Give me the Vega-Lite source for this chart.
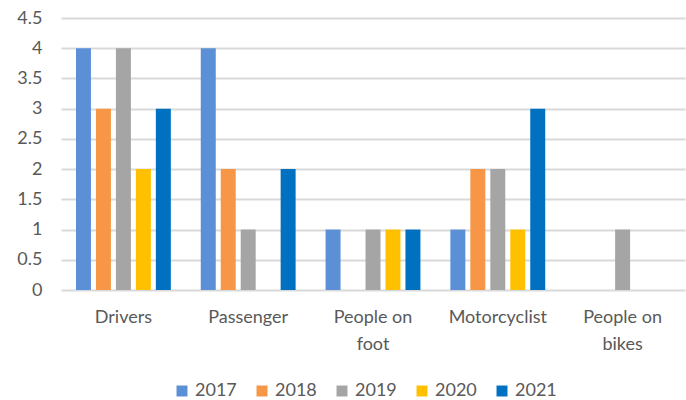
{
  "$schema": "https://vega.github.io/schema/vega-lite/v6.json",
  "width": 624,
  "height": 272,
  "autosize": {"type": "none"},
  "padding": {"left": 61, "top": 18, "right": 1, "bottom": 110},
  "background": "white",
  "config": {
    "font": "Lato",
    "view": {"stroke": null},
    "axis": {"labelFont": "Lato", "labelColor": "#595959", "labelFontSize": 18}
  },
  "data": {
    "values": [
      {"cat": "Drivers", "year": "2017", "v": 4},
      {"cat": "Drivers", "year": "2018", "v": 3},
      {"cat": "Drivers", "year": "2019", "v": 4},
      {"cat": "Drivers", "year": "2020", "v": 2},
      {"cat": "Drivers", "year": "2021", "v": 3},
      {"cat": "Passenger", "year": "2017", "v": 4},
      {"cat": "Passenger", "year": "2018", "v": 2},
      {"cat": "Passenger", "year": "2019", "v": 1},
      {"cat": "Passenger", "year": "2020", "v": 0},
      {"cat": "Passenger", "year": "2021", "v": 2},
      {"cat": "People on foot", "year": "2017", "v": 1},
      {"cat": "People on foot", "year": "2018", "v": 0},
      {"cat": "People on foot", "year": "2019", "v": 1},
      {"cat": "People on foot", "year": "2020", "v": 1},
      {"cat": "People on foot", "year": "2021", "v": 1},
      {"cat": "Motorcyclist", "year": "2017", "v": 1},
      {"cat": "Motorcyclist", "year": "2018", "v": 2},
      {"cat": "Motorcyclist", "year": "2019", "v": 2},
      {"cat": "Motorcyclist", "year": "2020", "v": 1},
      {"cat": "Motorcyclist", "year": "2021", "v": 3},
      {"cat": "People on bikes", "year": "2017", "v": 0},
      {"cat": "People on bikes", "year": "2018", "v": 0},
      {"cat": "People on bikes", "year": "2019", "v": 1},
      {"cat": "People on bikes", "year": "2020", "v": 0},
      {"cat": "People on bikes", "year": "2021", "v": 0}
    ]
  },
  "mark": {"type": "bar"},
  "encoding": {
    "x": {
      "field": "cat", "type": "nominal", "sort": null,
      "scale": {"paddingInner": 0.24, "paddingOuter": 0.12},
      "axis": {
        "title": null, "labelAngle": 0, "ticks": false, "domain": false,
        "labelPadding": 18, "labelLineHeight": 27,
        "labelExpr": "datum.value == 'People on foot' ? ['People on', 'foot'] : datum.value == 'People on bikes' ? ['People on', 'bikes'] : datum.value"
      }
    },
    "xOffset": {"field": "year", "type": "nominal", "scale": {"paddingInner": 0.25, "paddingOuter": 0}},
    "y": {
      "field": "v", "type": "quantitative",
      "scale": {"domain": [0, 4.5]},
      "axis": {
        "title": null, "values": [0, 0.5, 1, 1.5, 2, 2.5, 3, 3.5, 4, 4.5],
        "format": "~g",
        "ticks": false, "domain": false, "labelPadding": 19,
        "gridColor": "#D9D9D9", "gridWidth": 2
      }
    },
    "color": {
      "field": "year", "type": "nominal",
      "scale": {"domain": ["2017", "2018", "2019", "2020", "2021"], "range": ["#5B8FD6", "#F79646", "#A5A5A5", "#FFC000", "#0070C0"]},
      "legend": {
        "orient": "none", "direction": "horizontal", "title": null,
        "legendX": 112, "legendY": 364,
        "symbolType": "square", "symbolSize": 120, "symbolStrokeWidth": 0,
        "labelFont": "Lato", "labelFontSize": 18, "labelColor": "#595959",
        "columnPadding": 16, "labelOffset": 4
      }
    }
  }
}
